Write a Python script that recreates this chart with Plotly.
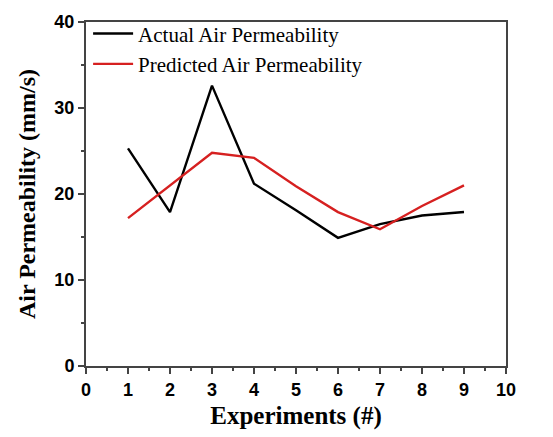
import plotly.graph_objects as go

experiments = [1, 2, 3, 4, 5, 6, 7, 8, 9]
actual = [25.3, 17.9, 32.6, 21.2, 18.1, 14.9, 16.5, 17.5, 17.9]
predicted = [17.2, 21.0, 24.8, 24.2, 20.9, 17.9, 15.9, 18.6, 21.0]

fig = go.Figure()
fig.add_trace(go.Scatter(x=experiments, y=actual, mode="lines",
                         name="Actual Air Permeability",
                         line=dict(color="black", width=2.4)))
fig.add_trace(go.Scatter(x=experiments, y=predicted, mode="lines",
                         name="Predicted Air Permeability",
                         line=dict(color="#d62020", width=2.4)))

axis_common = dict(
    showline=True, linecolor="#444444", linewidth=2, mirror=True,
    showgrid=False, zeroline=False,
    ticks="outside", ticklen=6, tickwidth=2, tickcolor="#444444",
    tickfont=dict(family="Arial, Liberation Sans", size=18, color="black", weight="bold"),
)

fig.update_xaxes(
    range=[0, 10], dtick=1, tick0=0,
    minor=dict(ticks="outside", ticklen=3, tickwidth=2, tickcolor="#444444", dtick=0.5),
    title=dict(text="Experiments (#)", standoff=8,
               font=dict(family="Liberation Serif", size=25, color="black", weight="bold")),
    **axis_common,
)
fig.update_yaxes(
    range=[0, 40], dtick=10, tick0=0,
    minor=dict(ticks="outside", ticklen=3, tickwidth=2, tickcolor="#444444", dtick=5),
    title=dict(text="Air Permeability (mm/s)", standoff=12,
               font=dict(family="Liberation Serif", size=24, color="black", weight="bold")),
    **axis_common,
)

fig.update_layout(
    width=553, height=437,
    margin=dict(l=86, r=47, t=18, b=68),
    plot_bgcolor="white", paper_bgcolor="white",
    showlegend=True,
    legend=dict(x=0.005, y=1.025, xanchor="left", yanchor="top",
                bgcolor="rgba(0,0,0,0)",
                font=dict(family="Liberation Serif", size=21, color="black"),
                tracegroupgap=0, itemwidth=40),
)

fig.write_html("out.html")
